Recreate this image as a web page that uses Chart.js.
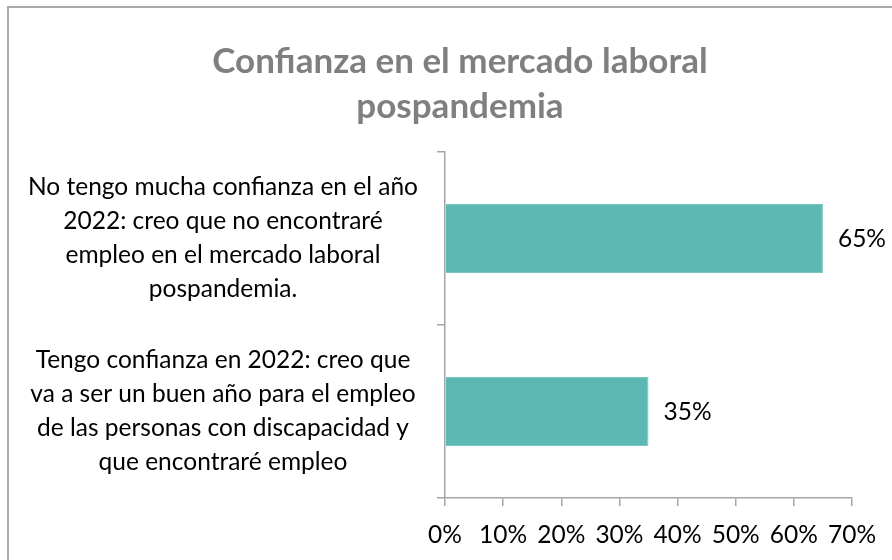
<!DOCTYPE html>
<html>
<head>
<meta charset="utf-8">
<script src="https://cdn.jsdelivr.net/npm/chart.js@4.4.1/dist/chart.umd.min.js"></script>
<style>
  html, body { margin: 0; padding: 0; background: #fff; }
  #wrap { position: relative; width: 892px; height: 560px; overflow: hidden; }
  #frame { position: absolute; left: 7px; top: 6px; width: 1000px; height: 1000px;
           border-left: 2px solid #a9a9a9; border-top: 2px solid #a9a9a9; box-sizing: border-box; }
  canvas { position: absolute; left: 0; top: 0; }
</style>
</head>
<body>
<div id="wrap">
  <div id="frame"></div>
  <canvas id="c" width="892" height="560"></canvas>
</div>
<script>
const titleLines = ["Confianza en el mercado laboral", "pospandemia"];
const categories = [
  ["No tengo mucha confianza en el año", "2022: creo que no encontraré", "empleo en el mercado laboral", "pospandemia."],
  ["Tengo confianza en 2022: creo que", "va a ser un buen año para el empleo", "de las personas con discapacidad y", "que encontraré empleo"]
];
const values = [0.65, 0.35];
const valueLabels = ["65%", "35%"];
const xTicks = [0, 0.1, 0.2, 0.3, 0.4, 0.5, 0.6, 0.7];

const FONT = "Lato";
const labelSize = 24.5;
const axisColor = "#a6a6a6";
const barColor = "#5db8b4";
const padLeft = 68;

// measure widest category line to centre labels around x≈223
const mctx = document.createElement('canvas').getContext('2d');
mctx.font = labelSize + "px " + FONT;
let widest = 0;
categories.forEach(c => c.forEach(l => { widest = Math.max(widest, mctx.measureText(l).width); }));
const yPad = Math.max(2, 437 - 223 - widest / 2);

// let the category labels use the full left margin (no clipping at the padding edge)
const widenLabelArea = {
  id: 'widenLabelArea',
  afterLayout(chart) { chart.scales.y.left = 0; }
};

const valueLabelPlugin = {
  id: 'valueLabels',
  afterDatasetsDraw(chart) {
    const ctx = chart.ctx;
    const meta = chart.getDatasetMeta(0);
    ctx.save();
    ctx.font = labelSize + "px " + FONT;
    ctx.fillStyle = "#000";
    ctx.textAlign = "left";
    ctx.textBaseline = "middle";
    meta.data.forEach((bar, i) => {
      ctx.fillText(valueLabels[i], bar.x + 15, bar.y + 1);
    });
    ctx.restore();
  }
};

new Chart(document.getElementById('c'), {
  type: 'bar',
  data: {
    labels: categories,
    datasets: [{
      data: values,
      backgroundColor: barColor,
      borderColor: "#79c6c2",
      borderWidth: 1,
      barPercentage: 0.4,
      categoryPercentage: 1.0
    }]
  },
  options: {
    indexAxis: 'y',
    responsive: false,
    animation: false,
    layout: { padding: { left: padLeft, right: 40, top: 0, bottom: 0 } },
    plugins: {
      legend: { display: false },
      tooltip: { enabled: false },
      title: {
        display: true,
        text: titleLines,
        color: "#7f7f7f",
        font: { family: FONT, size: 35, weight: 'bold', lineHeight: 45 / 35 },
        padding: { top: 39, bottom: 23 }
      }
    },
    scales: {
      x: {
        min: 0, max: 0.7,
        afterBuildTicks(scale) { scale.ticks = xTicks.map(v => ({ value: v })); },
        afterFit(scale) { scale.height = 62; scale.paddingLeft = 0; scale.paddingRight = 0; },
        grid: { drawOnChartArea: false, drawTicks: true, tickLength: 8, color: axisColor, lineWidth: 1.5 },
        border: { display: true, color: axisColor, width: 1.5 },
        ticks: {
          color: "#000",
          padding: 14,
          maxRotation: 0,
          autoSkip: true,
          font: { family: FONT, size: labelSize },
          callback: v => Math.round(v * 100) + "%"
        }
      },
      y: {
        afterFit(scale) { scale.width = 445 - padLeft; scale.paddingTop = 0; scale.paddingBottom = 0; },
        grid: { drawOnChartArea: false, drawTicks: true, tickLength: 8, offset: true, color: axisColor, lineWidth: 1.5 },
        border: { display: true, color: axisColor, width: 1.5 },
        ticks: {
          color: "#000",
          crossAlign: 'center',
          padding: yPad,
          autoSkip: true,
          font: { family: FONT, size: labelSize, lineHeight: 34 / labelSize }
        }
      }
    }
  },
  plugins: [widenLabelArea, valueLabelPlugin]
});
</script>
</body>
</html>
